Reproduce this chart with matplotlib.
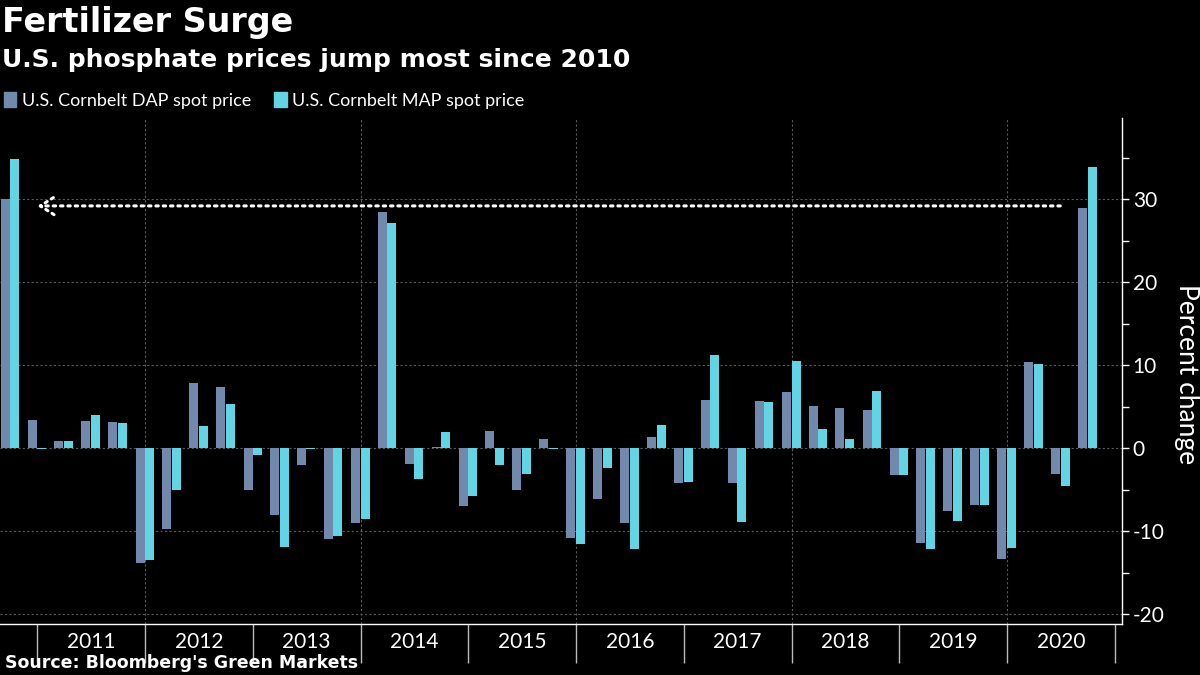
import matplotlib
matplotlib.use("Agg")
import matplotlib.pyplot as plt
import matplotlib.dates as mdates
from matplotlib.patches import Patch
import numpy as np
import pandas as pd

plt.rcParams['axes.unicode_minus'] = False
plt.rcParams['font.family'] = ['Lato', 'DejaVu Sans']

# quarterly percent change, quarter-end dates
dates = pd.date_range('2010-09-30', periods=41, freq='QE')
dap = [30.0, 3.4, 0.8, 3.3, 3.2, -13.9, -9.8, 7.9, 7.4, -5.1, -8.1, -2.0, -11.0, -9.0,
       28.5, -1.9, 0.1, -7.0, 2.1, -5.1, 1.1, -10.8, -6.1, -9.0, 1.4, -4.2, 5.8, -4.2,
       5.7, 6.8, 5.1, 4.8, 4.6, -3.3, -11.4, -7.6, -6.9, -13.4, 10.4, -3.1, 29.0]
map_ = [34.9, -0.1, 0.8, 4.0, 3.0, -13.5, -5.1, 2.7, 5.3, -0.8, -11.9, -0.1, -10.6, -8.6,
        27.2, -3.7, 2.0, -5.8, -2.0, -3.1, -0.1, -11.6, -2.4, -12.2, 2.8, -4.1, 11.2, -8.9,
        5.6, 10.5, 2.3, 1.1, 6.9, -3.2, -12.2, -8.8, -6.9, -12.0, 10.1, -4.6, 33.9]
years = list(range(2011, 2021))
series_names = ['U.S. Cornbelt DAP spot price', 'U.S. Cornbelt MAP spot price']

DAP_COLOR = '#7189ad'
MAP_COLOR = '#62d5e5'
GRID = '#5a5a5a'

fig = plt.figure(figsize=(12, 6.75), dpi=100, facecolor='black')
ax = fig.add_axes([0.0, 0.0756, 0.9347, 0.7496])
ax.set_facecolor('black')

x = mdates.date2num(dates)
w = 30.5
ax.bar(x - 16, dap, width=w, color=DAP_COLOR, zorder=3)
ax.bar(x + 16, map_, width=w, color=MAP_COLOR, zorder=3)

# dotted pointer back to 2010
y_ref = dap[-1] + 0.2
ax.annotate('', xy=(mdates.date2num(pd.Timestamp('2011-01-01')), y_ref),
            xytext=(x[-2], y_ref),
            arrowprops=dict(arrowstyle='->,head_length=0.55,head_width=0.35',
                            linestyle=(0, (0.8, 1.6)), color='white',
                            lw=2.2, mutation_scale=18, shrinkA=0, shrinkB=0,
                            capstyle='round'),
            zorder=4)

ax.set_xlim(mdates.date2num(pd.Timestamp('2010-08-27')),
            mdates.date2num(pd.Timestamp('2021-01-24')))
ax.set_ylim(-21.2, 39.8)

# y axis on right
ax.yaxis.tick_right()
ax.set_yticks([-20, -10, 0, 10, 20, 30])
ax.set_yticks([-15, -5, 5, 15, 25, 35], minor=True)
ax.tick_params(axis='y', which='both', colors='white', length=5, width=1, labelsize=15, pad=3)
ax.set_ylabel('Percent change', rotation=270, color='white', fontsize=19)
ax.yaxis.set_label_position('right')
ax.yaxis.set_label_coords(1.058, 0.494)
ax.yaxis.label.set_va('center')

# x axis: year separators + centered labels
bounds = [mdates.date2num(pd.Timestamp(f'{y}-01-01')) for y in years + [years[-1] + 1]]
centers = [mdates.date2num(pd.Timestamp(f'{y}-07-02')) for y in years]
ax.set_xticks(bounds)
ax.set_xticklabels([])
ax.set_xticks(centers, minor=True)
ax.set_xticklabels([str(y) for y in years], minor=True)
ax.tick_params(axis='x', which='major', colors='#bbbbbb', length=28, width=1)
ax.tick_params(axis='x', which='minor', length=0, labelsize=15, labelcolor='white', pad=6)

for s in ['top', 'left']:
    ax.spines[s].set_visible(False)
for s in ['bottom', 'right']:
    ax.spines[s].set_color('white')
    ax.spines[s].set_linewidth(1)

ax.yaxis.grid(True, which='major', color=GRID, linestyle=(0, (2, 2)), lw=0.8, zorder=0)
for y in years[1::2]:
    ax.axvline(mdates.date2num(pd.Timestamp(f'{y}-01-01')), color=GRID,
               linestyle=(0, (2, 2)), lw=0.8, zorder=0)

# titles, legend, source
fig.text(0.002, 0.967, 'Fertilizer Surge', fontsize=24, weight='bold', color='white',
         va='center', family='DejaVu Sans')
fig.text(0.002, 0.911, 'U.S. phosphate prices jump most since 2010', fontsize=18,
         weight='bold', color='white', va='center', family='DejaVu Sans')
handles = [Patch(color=DAP_COLOR), Patch(color=MAP_COLOR)]
fig.legend(handles, series_names, loc='center left', bbox_to_anchor=(0.0, 0.851), ncol=2,
           frameon=False, fontsize=13, handlelength=0.7, handleheight=0.9,
           handletextpad=0.3, columnspacing=1.3, labelcolor='white', borderaxespad=0,
           borderpad=0.2)
fig.text(0.004, 0.018, "Source: Bloomberg's Green Markets", fontsize=12.5, weight='bold',
         color='white', va='center', family='DejaVu Sans')

fig.savefig('out.png', dpi=100, facecolor='black')
